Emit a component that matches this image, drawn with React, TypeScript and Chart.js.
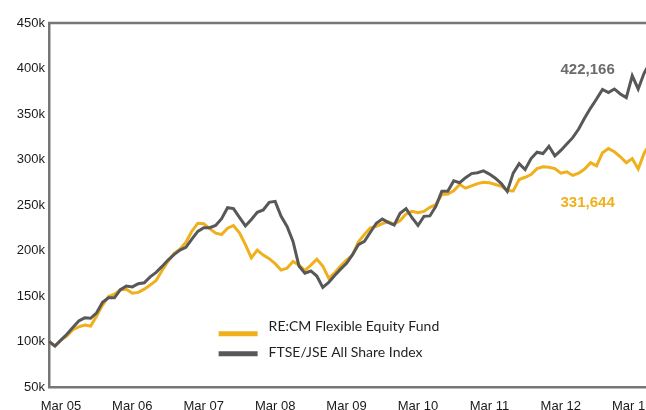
import React, { useEffect, useRef } from 'react';
import { Chart, registerables } from 'chart.js';

Chart.register(...registerables);

// ---------- data (values in thousands of rand) ----------
const MONTHS = ['Jan', 'Feb', 'Mar', 'Apr', 'May', 'Jun', 'Jul', 'Aug', 'Sep', 'Oct', 'Nov', 'Dec'];
const YEARS = ['05', '06', '07', '08', '09', '10', '11', '12', '13'];

const FUND = [
  100, 95, 101.5, 106, 113, 116, 118, 117, 128, 140,
  149.5, 152, 157, 157.5, 153, 154, 157.5, 162, 167, 178,
  188, 196.5, 201.5, 209, 221, 230, 229.5, 224, 219, 217.5,
  224.5, 227.5, 219.5, 206.5, 192, 200.5, 195, 191, 185.5, 178.5,
  180.5, 188, 184, 178, 184, 190.5, 183, 169.5, 175.5, 183,
  189.5, 195, 209.5, 217.5, 225, 226.5, 229.5, 231.5, 229, 233,
  240, 243, 241.5, 243, 247.5, 250.5, 261.5, 262, 265.5, 272.5,
  268.5, 271, 273.5, 275, 274.5, 272.5, 270.5, 266, 265.5, 278,
  280.5, 283.5, 290, 292, 291.5, 290, 285, 286.5, 282.5, 285,
  289.5, 296.5, 293, 307.5, 312, 308.5, 303, 296.5, 301, 289.5,
  307, 318, 326, 331.644,
];

const INDEX = [
  100, 95, 101.5, 108, 115.5, 122.5, 126, 125.5, 131.5, 143,
  148, 148, 157, 161, 160, 163.5, 164.5, 171, 176, 182.5,
  189.5, 195.5, 200.5, 203.5, 212.5, 221, 225, 225, 227.5, 235,
  247, 246, 236.5, 227, 234, 242, 244.5, 253, 254, 237.5,
  226.5, 210, 183, 175, 177.5, 172, 159.5, 165, 172.5, 179.5,
  186, 195.5, 206.5, 210, 220, 230, 234.5, 231, 228, 241,
  246, 236, 227.5, 237.5, 238, 248.5, 265, 265, 276.5, 274.5,
  280, 284.5, 285.5, 287.5, 284, 279.5, 273.5, 265, 285, 295.5,
  289, 301, 308, 306.5, 314.5, 304, 310, 317, 324, 333.5,
  345.5, 356.5, 366.5, 377, 373.5, 377.5, 372, 368, 392, 377.5,
  395, 407, 414, 422.166,
];

const LABELS: string[] = FUND.map((_, i) => `${MONTHS[i % 12]} ${YEARS[Math.floor(i / 12)]}`);

const SERIES_NAMES = ['RE:CM Flexible Equity Fund', 'FTSE/JSE All Share Index'];
const FINAL_LABELS = ['331,644', '422,166'];

const Y_MIN = 50;
const Y_MAX = 450;
const Y_STEP = 50;

const YELLOW = '#EFB01C';
const GREY = '#58585A';
const AXIS = '#767676';

export default function App() {
  const ref = useRef<HTMLCanvasElement | null>(null);

  useEffect(() => {
    if (!ref.current) return;
    const decor = {
      id: 'decor',
      afterDraw(chart: any) {
        const { ctx, chartArea, scales } = chart;
        const xs = scales.x;
        const ys = scales.y;
        ctx.save();
        // top frame line
        ctx.strokeStyle = AXIS;
        ctx.lineWidth = 2.5;
        ctx.beginPath();
        ctx.moveTo(chartArea.left - 1, chartArea.top);
        ctx.lineTo(chartArea.right, chartArea.top);
        ctx.stroke();

        // end-value annotations
        ctx.font = 'bold 15px "Liberation Sans", Arial, sans-serif';
        ctx.textAlign = 'center';
        ctx.textBaseline = 'middle';
        ctx.fillStyle = '#6B6B6D';
        ctx.fillText(FINAL_LABELS[1], xs.getPixelForValue(90.5), ys.getPixelForValue(399));
        ctx.fillStyle = YELLOW;
        ctx.fillText(FINAL_LABELS[0], xs.getPixelForValue(90.5), ys.getPixelForValue(252.5));

        // legend
        const lx = xs.getPixelForValue(28.5);
        const entries = [
          { c: YELLOW, t: SERIES_NAMES[0], ly: ys.getPixelForValue(108.5), ty: ys.getPixelForValue(116) },
          { c: GREY, t: SERIES_NAMES[1], ly: ys.getPixelForValue(86.5), ty: ys.getPixelForValue(87.5) },
        ];
        ctx.font = '14px Lato, "Open Sans", sans-serif';
        ctx.textAlign = 'left';
        entries.forEach((e) => {
          ctx.strokeStyle = e.c;
          ctx.lineWidth = 5;
          ctx.beginPath();
          ctx.moveTo(lx, e.ly);
          ctx.lineTo(lx + 39, e.ly);
          ctx.stroke();
          ctx.fillStyle = '#231F20';
          ctx.fillText(e.t, lx + 50, e.ty);
        });
        ctx.restore();
      },
    };

    const chart = new Chart(ref.current, {
      type: 'line',
      data: {
        labels: LABELS,
        datasets: [
          {
            label: SERIES_NAMES[1],
            data: INDEX,
            borderColor: GREY,
            borderWidth: 3,
            pointRadius: 0,
            tension: 0,
            fill: false,
          },
          {
            label: SERIES_NAMES[0],
            data: FUND,
            borderColor: YELLOW,
            borderWidth: 3,
            pointRadius: 0,
            tension: 0,
            fill: false,
          },
        ],
      },
      options: {
        responsive: false,
        animation: false,
        layout: { padding: { left: 0, right: 18, top: 23, bottom: 0 } },
        plugins: {
          legend: { display: false },
          tooltip: { enabled: false },
          title: { display: false },
        },
        scales: {
          x: {
            type: 'category',
            offset: false,
            grid: { display: false, drawTicks: false },
            border: { display: true, color: AXIS, width: 2.5 },
            ticks: {
              autoSkip: false,
              maxRotation: 0,
              minRotation: 0,
              padding: 12,
              color: '#1A1A1A',
              font: { family: '"Liberation Sans", Arial, sans-serif', size: 13 },
              callback: (_v: any, i: number) => (LABELS[i].startsWith('Mar') ? LABELS[i] : ''),
            },
            afterFit: (s: any) => {
              s.height = 43;
            },
          },
          y: {
            min: Y_MIN,
            max: Y_MAX,
            grid: { display: false, drawTicks: false },
            border: { display: true, color: AXIS, width: 2.5 },
            ticks: {
              stepSize: Y_STEP,
              padding: 4,
              color: '#1A1A1A',
              font: { family: '"Liberation Sans", Arial, sans-serif', size: 13 },
              callback: (v: any) => `${v}k`,
            },
            afterFit: (s: any) => {
              s.width = 49;
            },
          },
        },
      },
      plugins: [decor],
    });
    return () => chart.destroy();
  }, []);

  return (
    <div
      style={{
        position: 'fixed',
        left: 0,
        top: 0,
        width: 646,
        height: 410,
        overflow: 'hidden',
        background: '#ffffff',
      }}
    >
      <canvas ref={ref} width={680} height={430} style={{ display: 'block', width: 680, height: 430 }} />
    </div>
  );
}
